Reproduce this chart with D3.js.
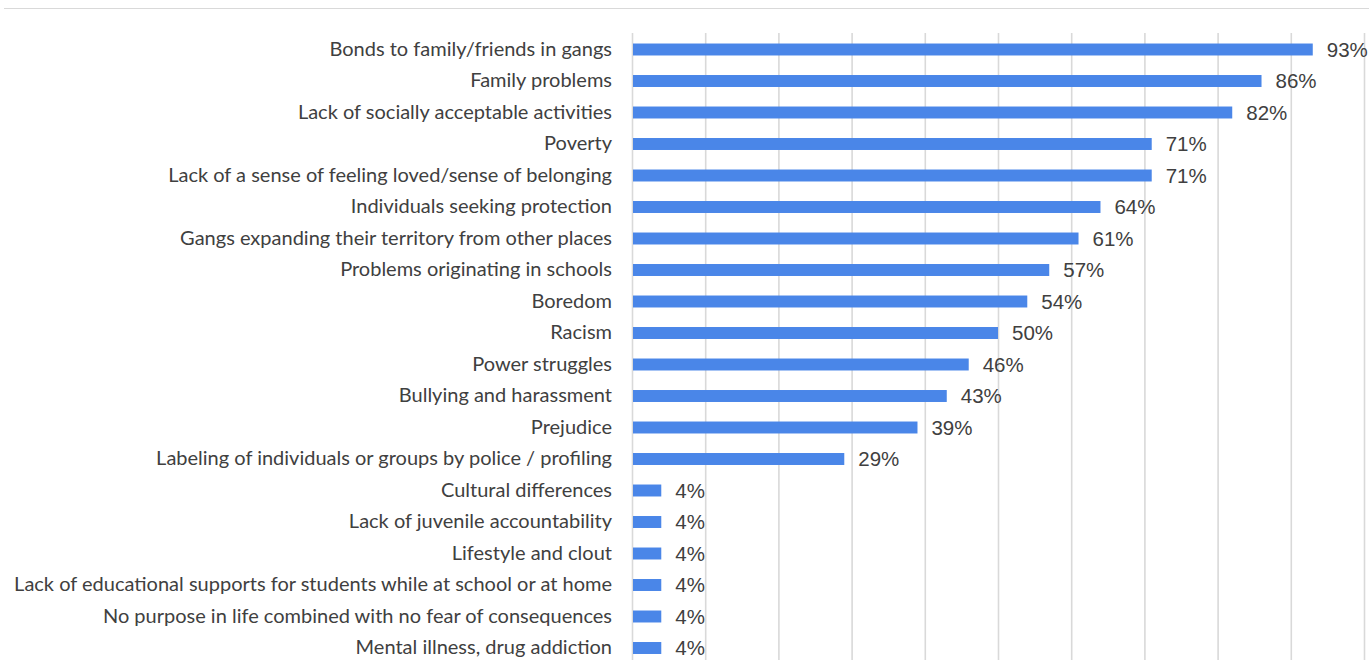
<!DOCTYPE html>
<html>
<head>
<meta charset="utf-8">
<script src="https://cdn.jsdelivr.net/npm/d3@7"></script>
<style>
  html, body { margin: 0; padding: 0; background: #fff; }
  svg { display: block; }
</style>
</head>
<body>
<svg id="chart" width="1369" height="660"></svg>
<script>
// Reasons cited for gang involvement, share of respondents (%)
const categories = [
  "Bonds to family/friends in gangs",
  "Family problems",
  "Lack of socially acceptable activities",
  "Poverty",
  "Lack of a sense of feeling loved/sense of belonging",
  "Individuals seeking protection",
  "Gangs expanding their territory from other places",
  "Problems originating in schools",
  "Boredom",
  "Racism",
  "Power struggles",
  "Bullying and harassment",
  "Prejudice",
  "Labeling of individuals or groups by police / profiling",
  "Cultural differences",
  "Lack of juvenile accountability",
  "Lifestyle and clout",
  "Lack of educational supports for students while at school or at home",
  "No purpose in life combined with no fear of consequences",
  "Mental illness, drug addiction"
];
const values = [93, 86, 82, 71, 71, 64, 61, 57, 54, 50, 46, 43, 39, 29, 4, 4, 4, 4, 4, 4];
const gridTicks = [0, 10, 20, 30, 40, 50, 60, 70, 80, 90, 100];

const svg = d3.select("#chart");
const W = 1369, H = 660;
const plotLeft = 632, plotRight = 1364, plotTop = 33;

const x = d3.scaleLinear().domain([0, 100]).range([plotLeft, plotRight]);
const y = d3.scaleBand()
  .domain(categories)
  .range([33.75, 663.75])
  .paddingInner(0.62)
  .paddingOuter(0.31);

// thin rule across the top
svg.append("line")
  .attr("x1", 4).attr("x2", W)
  .attr("y1", 8.5).attr("y2", 8.5)
  .attr("stroke", "#d9d9d9").attr("stroke-width", 1.2);

// vertical gridlines
const grid = svg.append("g")
  .attr("transform", `translate(0,${plotTop})`)
  .call(d3.axisTop(x).tickValues(gridTicks).tickSize(-(H - plotTop)).tickFormat(""));
grid.select(".domain").remove();
grid.selectAll(".tick line").attr("stroke", "#d9d9d9").attr("stroke-width", 1.6);

// bars
svg.append("g").selectAll("rect")
  .data(values)
  .join("rect")
  .attr("x", x(0) + 1)
  .attr("y", (d, i) => y(categories[i]))
  .attr("width", d => x(d) - x(0) - 1)
  .attr("height", y.bandwidth())
  .attr("fill", "#4a86e8");

// category labels
const yAxis = svg.append("g")
  .attr("transform", `translate(${plotLeft},0)`)
  .call(d3.axisLeft(y).tickSize(0).tickPadding(20));
yAxis.select(".domain").remove();
yAxis.selectAll("text")
  .attr("fill", "#404040")
  .style("font-family", "Lato, 'Open Sans', sans-serif")
  .style("font-size", "20px");

// value labels
svg.append("g").selectAll("text")
  .data(values)
  .join("text")
  .attr("x", d => x(d) + 14)
  .attr("y", (d, i) => y(categories[i]) + y.bandwidth() / 2)
  .attr("dy", "0.36em")
  .attr("fill", "#404040")
  .style("font-family", "'Liberation Sans', Arial, sans-serif")
  .style("font-size", "20.5px")
  .text(d => d + "%");
</script>
</body>
</html>
